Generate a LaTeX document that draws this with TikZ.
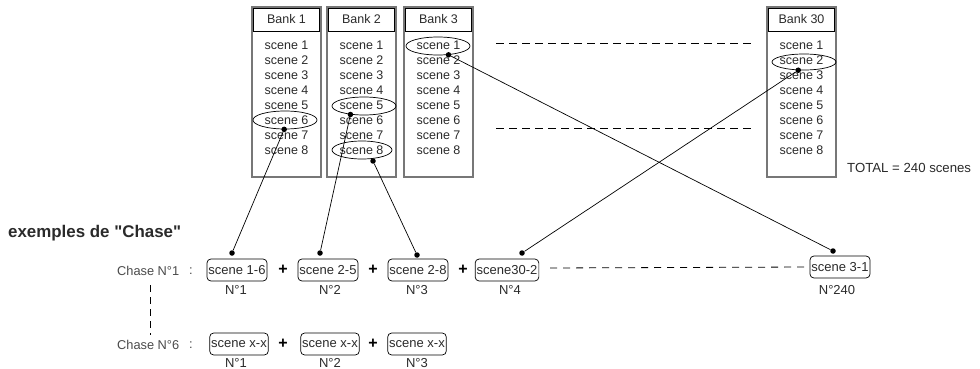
\documentclass[tikz,border=0pt]{standalone}
\usepackage{fontspec}
\setmainfont{Liberation Sans}[Ligatures=TeXOff]
\usetikzlibrary{shapes.geometric}
\definecolor{txt}{HTML}{2A2A2A}
\definecolor{lgray}{HTML}{4A4A4A}
\definecolor{bord}{HTML}{777777}
\tikzset{
  bankbox/.style={draw=bord,line width=1.4pt,minimum width=69pt,minimum height=170pt,inner sep=0pt},
  banktitle/.style={draw=black,line width=0.7pt,minimum width=66pt,minimum height=23pt,inner sep=0pt,font=\fontsize{12.5}{14}\selectfont,text=txt},
  sc/.style={font=\fontsize{12.5}{15}\selectfont,text=txt,inner sep=0pt},
  ell/.style={draw=black,line width=0.7pt,ellipse,inner sep=0pt,minimum width=64pt,minimum height=18pt},
  dotn/.style={circle,fill=black,inner sep=0pt,minimum size=5.5pt},
  chbox/.style={draw=black,line width=0.7pt,rounded corners=4pt,inner sep=1.5pt,minimum height=22pt,font=\fontsize{13}{15}\selectfont,text=txt},
  nlab/.style={font=\fontsize{13}{15}\selectfont,text=txt,inner sep=0pt},
  plus/.style={font=\fontsize{16}{16}\selectfont\bfseries,inner sep=0pt},
  chlab/.style={font=\fontsize{12.8}{14}\selectfont,text=lgray,inner sep=0pt,anchor=west},
  conn/.style={draw=black,line width=0.7pt},
  dash1/.style={draw=black,line width=0.7pt,dash pattern=on 8pt off 5pt},
  dash2/.style={draw=black,line width=0.8pt,dash pattern=on 7pt off 6pt}
}
\begin{document}
\begin{tikzpicture}[x=1pt,y=-1pt]
\useasboundingbox (0,0) rectangle (980,369);
% banks
\foreach \n/\cx/\lab in {b1/286.5/Bank 1,b2/361.5/Bank 2,b3/438.5/Bank 3,b30/801.5/Bank 30}{
  \node[bankbox] (\n) at (\cx,92) {};
  \node[banktitle] (\n t) at (\cx,19.5) {\lab};
  \foreach \i in {1,...,8}{
    \node[sc] (\n s\i) at (\cx,{45+15*(\i-1)}) {scene \i};
  }
}
% ellipses
\node[ell] (e16) at (285,120) {};
\node[ell] (e25) at (364,106) {};
\node[ell,minimum width=60pt] (e28) at (362,150) {};
\node[ell] (e31) at (438,46) {};
\node[ell,minimum height=16pt] (e302) at (804,62) {};
% dots on ellipses
\node[dotn] (de16) at (e16.265) {};
\node[dotn] (de25) at (e25.212) {};
\node[dotn] (de28) at (373,161) {};
\node[dotn] (de31) at (e31.-40) {};
\node[dotn] (de302) at (e302.235) {};
% dashed between bank 3 and bank 30
\coordinate (h1a) at (496,43); \coordinate (h1b) at (752,43);
\coordinate (h2a) at (496,128); \coordinate (h2b) at (752,128);
\draw[dash1] (h1a) -- (h1b);
\draw[dash1] (h2a) -- (h2b);
\node[sc,anchor=west,font=\fontsize{13.2}{15}\selectfont] (total) at (847,168) {TOTAL = 240 scenes};
% title
\node[anchor=west,inner sep=0pt,font=\fontsize{16.9}{18}\selectfont\bfseries,text=txt] (ex) at (8,233) {exemples de "Chase"};
% chase 1
\node[chlab] (ch1) at (117,271) {Chase N°1};
\node[chlab] (col1) at (189,271) {:};
\node[chbox] (c16) at (237,270) {scene 1-6};
\node[plus] (p1) at (283,270) {+};
\node[chbox] (c25) at (328,270) {scene 2-5};
\node[plus] (p2) at (373,270) {+};
\node[chbox] (c28) at (418,270) {scene 2-8};
\node[plus] (p3) at (463,270) {+};
\node[chbox] (c302) at (507,270) {scene30-2};
\node[chbox] (c31) at (840,267) {scene 3-1};
\node[nlab] (n1) at (236,290) {N°1};
\node[nlab] (n2) at (330,290) {N°2};
\node[nlab] (n3) at (417,290) {N°3};
\node[nlab] (n4) at (510,290) {N°4};
\node[nlab] (n240) at (837,290) {N°240};
\coordinate (dl) at (550,268);
\draw[dash2] (dl) -- (c31.west);
% dots on chase boxes
\node[dotn] (dc16) at (232,253) {};
\node[dotn] (dc25) at (320,253) {};
\node[dotn] (dc28) at (417,255) {};
\node[dotn] (dc302) at (522,253) {};
\node[dotn] (dc31) at (833,251) {};
% connectors
\draw[conn] (de16) -- (dc16);
\draw[conn] (de25) -- (dc25);
\draw[conn] (de28) -- (dc28);
\draw[conn] (de31) -- (dc31);
\draw[conn] (de302) -- (dc302);
% chase 6
\node[chlab] (ch6) at (117,345) {Chase N°6};
\node[chlab] (col6) at (189,345) {:};
\node[chbox] (x1) at (239,344) {scene x-x};
\node[plus] (q1) at (283,344) {+};
\node[chbox] (x2) at (330,344) {scene x-x};
\node[plus] (q2) at (373,344) {+};
\node[chbox] (x3) at (417,344) {scene x-x};
\node[nlab] (m1) at (236,363) {N°1};
\node[nlab] (m2) at (330,363) {N°2};
\node[nlab] (m3) at (417,363) {N°3};
\coordinate (va) at (150,285);
\coordinate (vb) at (150,335);
\draw[dash2,dash pattern=on 7pt off 5pt] (va) -- (vb);
\end{tikzpicture}
\end{document}
